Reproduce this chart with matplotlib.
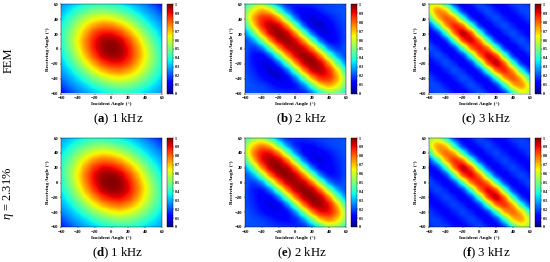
from matplotlib import pyplot as plt

plt.rcParams['font.family'] = 'Liberation Serif'
plt.rcParams['mathtext.fontset'] = 'custom'
plt.rcParams['mathtext.rm'] = 'Liberation Serif'
plt.rcParams['mathtext.it'] = 'Liberation Serif:italic'
plt.rcParams['mathtext.bf'] = 'Liberation Serif:bold'

angles = [-60, -40, -20, 0, 20, 40, 60]
cbar_ticks = [0, 0.1, 0.2, 0.3, 0.4, 0.5, 0.6, 0.7, 0.8, 0.9, 1]
cbar_labels = ['0', '0.1', '0.2', '0.3', '0.4', '0.5', '0.6', '0.7', '0.8', '0.9', '1']
captions = ['($\\mathbf{a}$) 1 kHz', '($\\mathbf{b}$) 2 kHz', '($\\mathbf{c}$) 3 kHz',
            '($\\mathbf{d}$) 1 kHz', '($\\mathbf{e}$) 2 kHz', '($\\mathbf{f}$) 3 kHz']

# rows go from +60 down to -60, columns from -60 to +60, every 10 degrees
fem_1k = [
    [.27, .30, .33, .37, .39, .39, .37, .35, .31, .28, .24, .18, .13],
    [.30, .35, .41, .46, .50, .51, .49, .45, .40, .34, .29, .25, .18],
    [.33, .41, .49, .57, .62, .65, .63, .58, .51, .43, .35, .29, .24],
    [.37, .46, .57, .67, .74, .78, .77, .72, .64, .53, .43, .34, .28],
    [.39, .50, .62, .74, .85, .90, .90, .85, .75, .64, .51, .40, .31],
    [.39, .51, .65, .78, .90, .97, .98, .95, .85, .72, .58, .45, .35],
    [.37, .49, .63, .77, .90, .98, 1.0, .98, .90, .77, .63, .49, .37],
    [.35, .45, .58, .72, .85, .95, .98, .97, .90, .78, .65, .51, .39],
    [.31, .40, .51, .64, .75, .85, .90, .90, .85, .74, .62, .50, .39],
    [.28, .34, .43, .53, .64, .72, .77, .78, .74, .67, .57, .46, .37],
    [.24, .29, .35, .43, .51, .58, .63, .65, .62, .57, .49, .41, .33],
    [.18, .25, .29, .34, .40, .45, .49, .51, .50, .46, .41, .35, .30],
    [.13, .18, .24, .28, .31, .35, .37, .39, .39, .37, .33, .30, .27],
]
fem_2k = [
    [.36, .48, .51, .37, .22, .13, .16, .17, .18, .19, .20, .20, .20],
    [.48, .66, .75, .69, .45, .23, .12, .11, .12, .16, .19, .20, .21],
    [.51, .75, .88, .89, .76, .48, .22, .09, .07, .10, .14, .18, .21],
    [.37, .69, .89, .97, .95, .78, .48, .20, .07, .06, .11, .16, .20],
    [.24, .45, .76, .95, 1.0, .96, .77, .47, .20, .08, .09, .14, .20],
    [.17, .26, .48, .78, .96, .99, .94, .76, .47, .20, .10, .13, .20],
    [.22, .15, .22, .48, .77, .94, .97, .94, .77, .48, .22, .15, .22],
    [.20, .13, .10, .20, .47, .76, .94, .99, .96, .78, .48, .26, .17],
    [.20, .14, .09, .08, .20, .47, .77, .96, 1.0, .95, .76, .45, .24],
    [.20, .16, .11, .06, .07, .20, .48, .78, .95, .97, .89, .69, .37],
    [.21, .18, .14, .10, .07, .09, .22, .48, .76, .89, .88, .75, .51],
    [.21, .20, .19, .16, .12, .11, .12, .23, .45, .69, .75, .66, .48],
    [.20, .20, .20, .19, .18, .17, .16, .13, .22, .37, .51, .48, .36],
]
fem_3k = [
    [.55, .62, .38, .14, .09, .17, .22, .15, .10, .14, .20, .20, .17],
    [.62, .80, .74, .39, .13, .08, .17, .22, .15, .10, .14, .20, .20],
    [.38, .74, .86, .78, .41, .13, .08, .17, .22, .15, .10, .14, .20],
    [.14, .39, .78, .92, .84, .45, .14, .08, .17, .22, .15, .10, .14],
    [.09, .13, .41, .84, 1.0, .88, .44, .14, .08, .17, .22, .15, .10],
    [.17, .08, .13, .45, .88, .97, .83, .42, .13, .08, .17, .22, .15],
    [.22, .17, .08, .13, .44, .83, .93, .83, .44, .13, .08, .17, .22],
    [.15, .22, .17, .08, .13, .42, .83, .97, .88, .45, .13, .08, .17],
    [.10, .15, .22, .17, .08, .14, .44, .88, 1.0, .84, .41, .13, .09],
    [.14, .10, .15, .22, .17, .08, .14, .45, .84, .92, .78, .39, .14],
    [.20, .14, .10, .15, .22, .17, .08, .13, .41, .78, .86, .74, .38],
    [.20, .20, .14, .10, .15, .22, .17, .08, .13, .39, .74, .80, .62],
    [.17, .20, .20, .14, .10, .15, .22, .17, .09, .14, .38, .62, .55],
]
pred_1k = [
    [.28, .31, .34, .38, .40, .40, .38, .36, .32, .29, .25, .19, .15],
    [.31, .36, .42, .47, .51, .52, .50, .46, .41, .35, .30, .26, .19],
    [.34, .42, .50, .58, .63, .66, .64, .59, .52, .44, .36, .30, .25],
    [.38, .47, .58, .68, .76, .80, .78, .73, .65, .54, .44, .35, .29],
    [.40, .51, .63, .76, .87, .92, .91, .86, .76, .65, .52, .41, .32],
    [.40, .52, .66, .80, .92, .98, .99, .96, .86, .73, .59, .46, .36],
    [.38, .50, .64, .78, .91, .99, 1.0, .99, .91, .78, .64, .50, .38],
    [.36, .46, .59, .73, .86, .96, .99, .98, .92, .80, .66, .52, .40],
    [.32, .41, .52, .65, .76, .86, .91, .92, .87, .76, .63, .51, .40],
    [.29, .35, .44, .54, .65, .73, .78, .80, .76, .68, .58, .47, .38],
    [.25, .30, .36, .44, .52, .59, .64, .66, .63, .58, .50, .42, .34],
    [.19, .26, .30, .35, .41, .46, .50, .52, .51, .47, .42, .36, .31],
    [.15, .19, .25, .29, .32, .36, .38, .40, .40, .38, .34, .31, .28],
]
pred_2k = [
    [.40, .51, .54, .40, .24, .15, .16, .17, .18, .19, .20, .20, .20],
    [.51, .70, .79, .72, .48, .25, .14, .12, .13, .16, .19, .20, .21],
    [.54, .79, .91, .92, .79, .51, .24, .11, .09, .11, .14, .18, .21],
    [.40, .72, .92, .98, .97, .81, .51, .22, .09, .08, .12, .16, .20],
    [.25, .48, .79, .97, 1.0, .97, .80, .50, .22, .10, .11, .15, .20],
    [.18, .28, .51, .81, .97, 1.0, .96, .79, .50, .22, .12, .14, .20],
    [.22, .16, .24, .51, .80, .96, .98, .96, .80, .51, .24, .16, .22],
    [.20, .14, .12, .22, .50, .79, .96, 1.0, .97, .81, .51, .28, .18],
    [.20, .15, .11, .10, .22, .50, .80, .97, 1.0, .97, .79, .48, .25],
    [.20, .16, .12, .08, .09, .22, .51, .81, .97, .98, .92, .72, .40],
    [.21, .18, .14, .11, .09, .11, .24, .51, .79, .92, .91, .79, .54],
    [.21, .20, .19, .16, .13, .12, .14, .25, .48, .72, .79, .70, .51],
    [.20, .20, .20, .19, .18, .17, .16, .15, .24, .40, .54, .51, .40],
]
pred_3k = [
    [.50, .60, .38, .15, .10, .16, .21, .15, .11, .14, .19, .19, .16],
    [.60, .78, .73, .39, .14, .09, .16, .21, .15, .11, .14, .19, .19],
    [.38, .73, .83, .76, .41, .14, .09, .16, .21, .15, .11, .14, .19],
    [.15, .39, .76, .90, .83, .45, .15, .09, .16, .21, .15, .11, .14],
    [.10, .14, .41, .83, 1.0, .87, .44, .15, .09, .16, .21, .15, .11],
    [.16, .09, .14, .45, .87, .96, .82, .42, .14, .09, .16, .21, .15],
    [.21, .16, .09, .15, .44, .82, .91, .82, .44, .15, .09, .16, .21],
    [.15, .21, .16, .09, .14, .42, .82, .96, .87, .45, .14, .09, .16],
    [.11, .15, .21, .16, .09, .15, .44, .87, 1.0, .83, .41, .14, .10],
    [.14, .11, .15, .21, .16, .09, .15, .45, .83, .90, .76, .39, .15],
    [.19, .14, .11, .15, .21, .16, .09, .14, .41, .76, .83, .73, .38],
    [.19, .19, .14, .11, .15, .21, .16, .09, .14, .39, .73, .78, .60],
    [.16, .19, .19, .14, .11, .15, .21, .16, .10, .15, .38, .60, .50],
]
grids = [fem_1k, fem_2k, fem_3k, pred_1k, pred_2k, pred_3k]

W, H = 550, 262
ax_left = [61, 245, 429]
ax_top = [4.5, 138]
ax_w, ax_h = 101, 89
fig = plt.figure(figsize=(W / 100, H / 100), dpi=100)


def box(left, top, width, height):
    return [left / W, 1 - (top + height) / H, width / W, height / H]


for i, grid in enumerate(grids):
    row, col = divmod(i, 3)
    left = ax_left[col]
    top = ax_top[row]
    ax = fig.add_axes(box(left, top, ax_w, ax_h))
    im = ax.imshow(grid, cmap='jet', vmin=0, vmax=1, aspect='auto',
                   extent=[-65, 65, -65, 65], interpolation='gaussian',
                   interpolation_stage='data')
    ax.set_xlim(-60, 60)
    ax.set_ylim(-60, 60)
    ax.set_xticks(angles)
    ax.set_yticks(angles)
    ax.tick_params(labelsize=3.4, length=1, width=0.3, pad=1)
    for t in ax.get_xticklabels() + ax.get_yticklabels():
        t.set_fontweight('bold')
    ax.set_xlabel('Incident Angle (°)', fontsize=3.8, fontweight='bold', labelpad=1.5)
    ax.set_ylabel('Receiving Angle (°)', fontsize=3.8, fontweight='bold', labelpad=0.5)
    for s in ax.spines.values():
        s.set_linewidth(0.3)

    cax = fig.add_axes(box(left + 106, top, 5.5, ax_h))
    cb = fig.colorbar(im, cax=cax)
    cb.set_ticks(cbar_ticks)
    cb.set_ticklabels(cbar_labels)
    cb.ax.tick_params(labelsize=3, length=0.8, width=0.3, pad=1)
    cb.outline.set_linewidth(0.3)
    for t in cb.ax.get_yticklabels():
        t.set_fontweight('bold')

    fig.text((left + 57) / W, 1 - (119.5 + 133.5 * row) / H, captions[i],
             fontsize=9.2, ha='center', va='center')

fig.text(9 / W, 1 - 60 / H, 'FEM', rotation=90, fontsize=9, ha='center', va='center')
fig.text(9 / W, 1 - 193 / H, '$\\mathit{\\eta}$ = 2.31%', rotation=90, fontsize=9,
         ha='center', va='center')

fig.savefig('out.png', dpi=100)
